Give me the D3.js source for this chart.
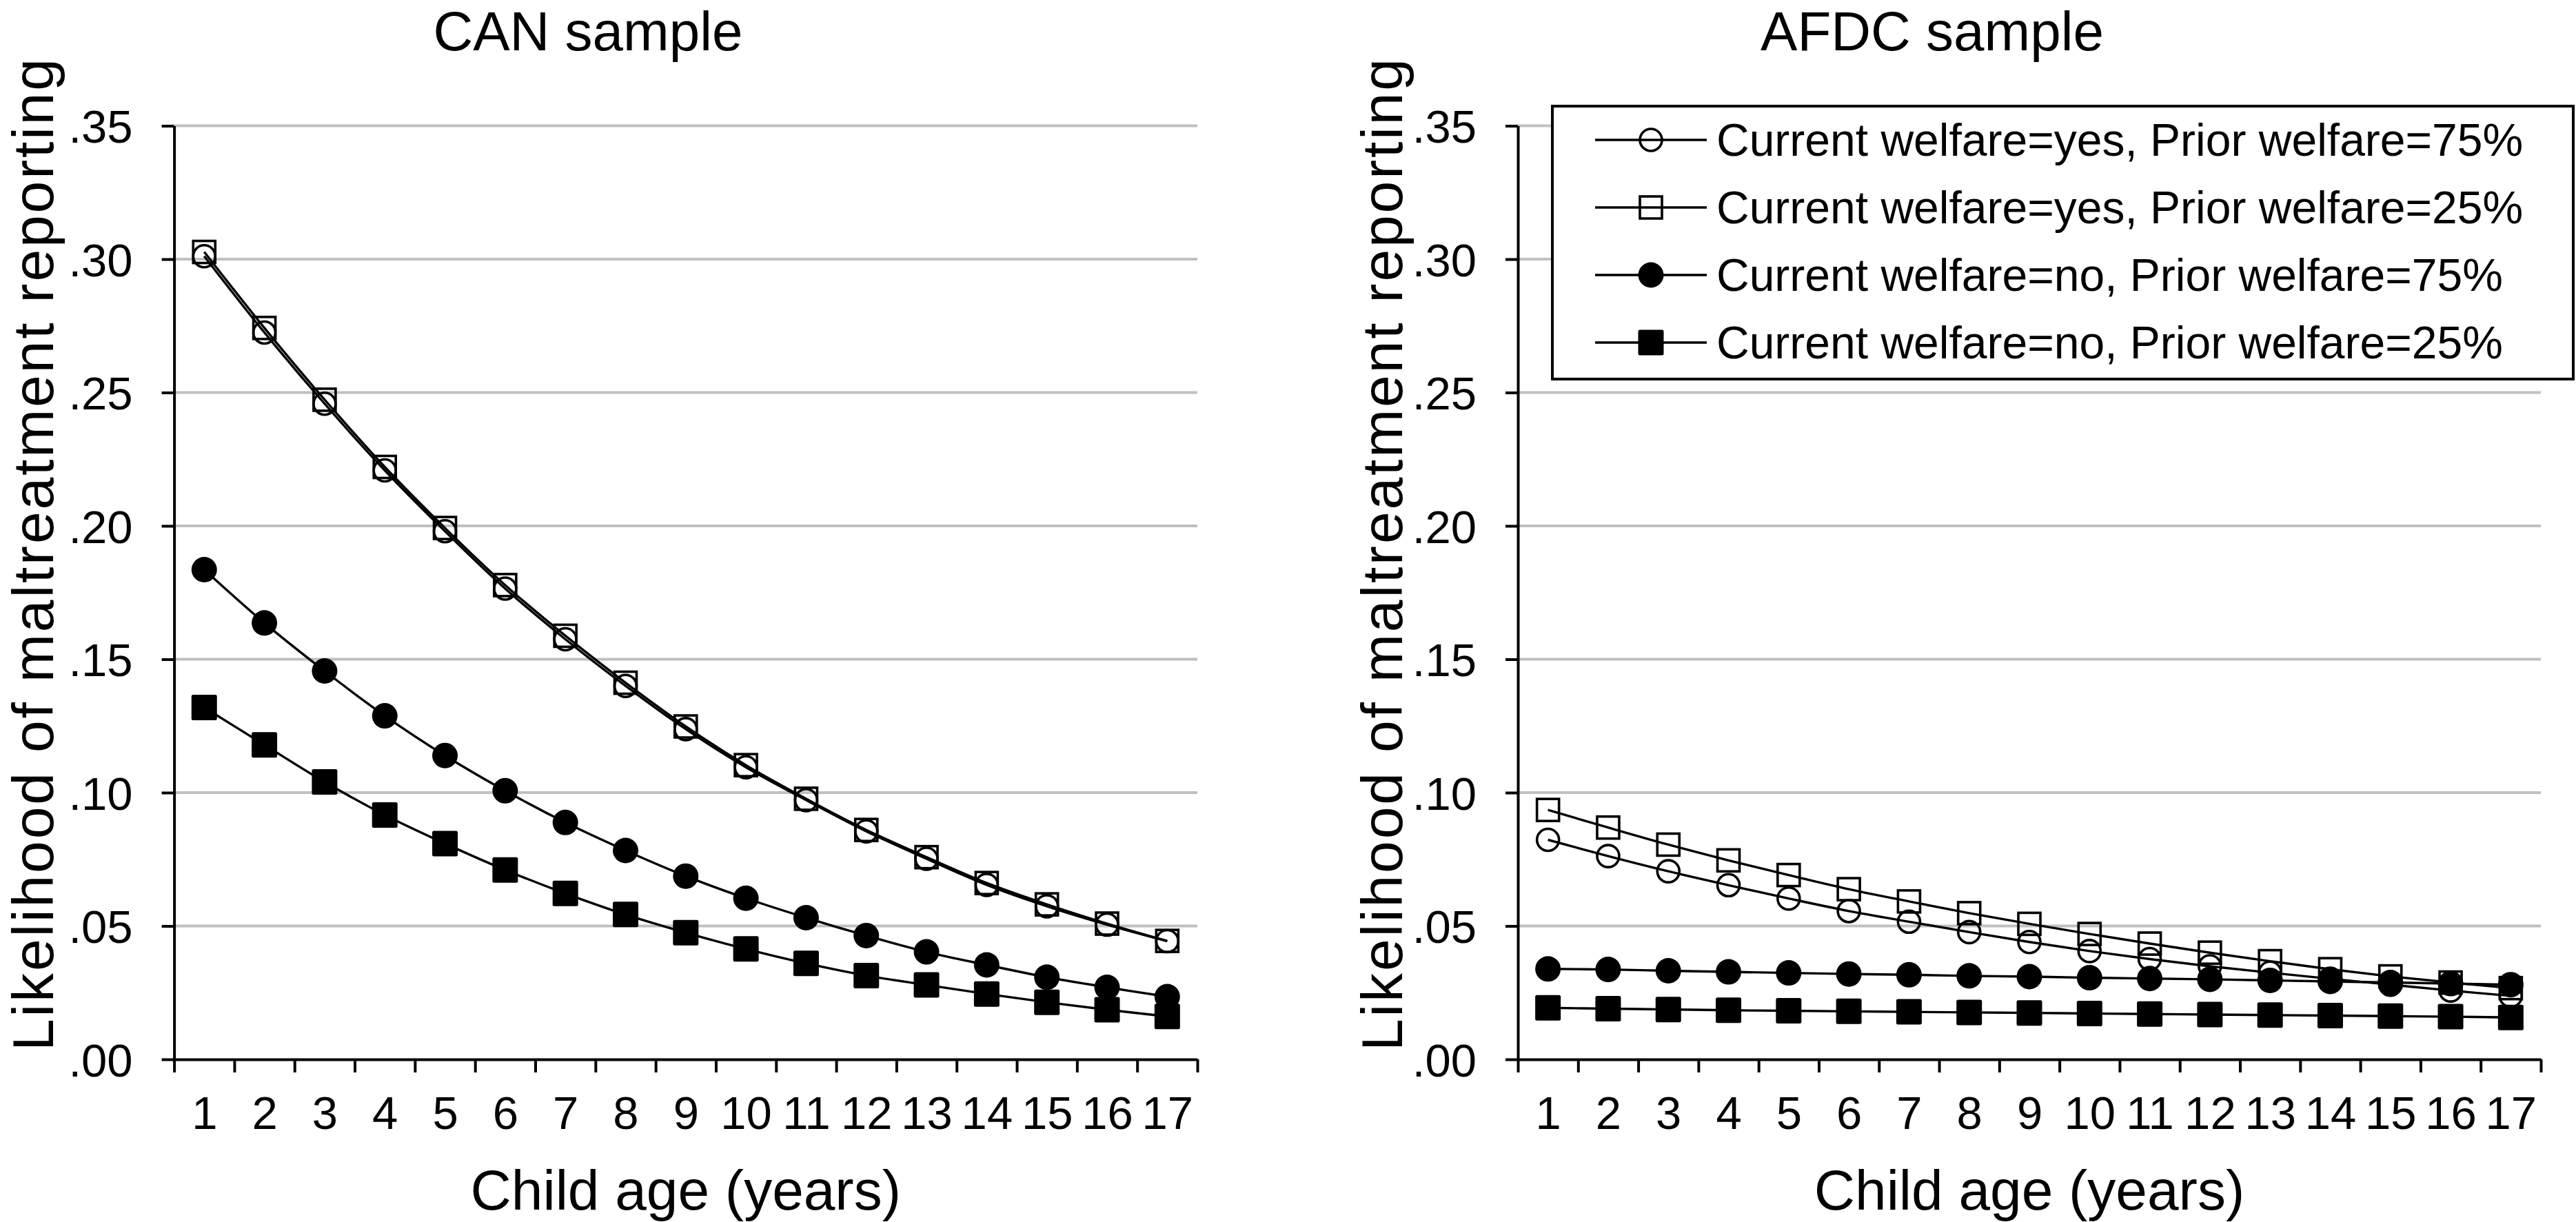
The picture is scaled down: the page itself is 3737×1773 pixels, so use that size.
<!DOCTYPE html>
<html>
<head>
<meta charset="utf-8">
<script src="https://cdn.jsdelivr.net/npm/d3@7"></script>
<style>
  html, body { margin: 0; padding: 0; background: #fff; }
  svg { display: block; }
  text { font-family: "Liberation Sans", Arial, Helvetica, sans-serif; fill: #000; }
</style>
</head>
<body>
<svg id="chart" width="3737" height="1773"></svg>
<script>
// ---------------- data ----------------
const ages = [1, 2, 3, 4, 5, 6, 7, 8, 9, 10, 11, 12, 13, 14, 15, 16, 17];

// CAN sample
const canYes75 = [0.3011, 0.2725, 0.2458, 0.2208, 0.1980, 0.1765, 0.1575, 0.1400, 0.1238, 0.1095, 0.0972, 0.0855, 0.0752, 0.0654, 0.0574, 0.0505, 0.0443];
const canYes25 = [0.3027, 0.2742, 0.2473, 0.2221, 0.1992, 0.1778, 0.1588, 0.1412, 0.1248, 0.1103, 0.0977, 0.0860, 0.0758, 0.0661, 0.0581, 0.0509, 0.0444];
const canNo75  = [0.1836, 0.1636, 0.1456, 0.1288, 0.1139, 0.1007, 0.0888, 0.0783, 0.0687, 0.0604, 0.0531, 0.0464, 0.0403, 0.0354, 0.0308, 0.0270, 0.0235];
const canNo25  = [0.1319, 0.1179, 0.1040, 0.0916, 0.0809, 0.0710, 0.0622, 0.0543, 0.0475, 0.0414, 0.0360, 0.0314, 0.0279, 0.0245, 0.0214, 0.0186, 0.0161];

// AFDC sample
const afdcYes75 = [0.0823, 0.0762, 0.0705, 0.0653, 0.0603, 0.0556, 0.0516, 0.0477, 0.0440, 0.0406, 0.0376, 0.0349, 0.0325, 0.0302, 0.0280, 0.0258, 0.0238];
const afdcYes25 = [0.0935, 0.0869, 0.0805, 0.0746, 0.0691, 0.0638, 0.0592, 0.0548, 0.0508, 0.0470, 0.0434, 0.0400, 0.0368, 0.0338, 0.0311, 0.0288, 0.0267];
const afdcNo75  = [0.0339, 0.0337, 0.0332, 0.0328, 0.0324, 0.0320, 0.0317, 0.0313, 0.0310, 0.0306, 0.0303, 0.0300, 0.0296, 0.0292, 0.0288, 0.0284, 0.0280];
const afdcNo25  = [0.0193, 0.0190, 0.0187, 0.0184, 0.0182, 0.0180, 0.0178, 0.0176, 0.0174, 0.0172, 0.0170, 0.0168, 0.0166, 0.0164, 0.0162, 0.0160, 0.0157];

const yTicks = [0, 0.05, 0.10, 0.15, 0.20, 0.25, 0.30, 0.35];
const yTickLabels = [".00", ".05", ".10", ".15", ".20", ".25", ".30", ".35"];

const seriesNames = [
  "Current welfare=yes, Prior welfare=75%",
  "Current welfare=yes, Prior welfare=25%",
  "Current welfare=no, Prior welfare=75%",
  "Current welfare=no, Prior welfare=25%"
];
const seriesMarkers = ["circleOpen", "squareOpen", "circleFilled", "squareFilled"];

const panelTitles = ["CAN sample", "AFDC sample"];
const xAxisTitle = "Child age (years)";
const yAxisTitle = "Likelihood of maltreatment reporting";

// ---------------- layout ----------------
const svg = d3.select("#chart");
svg.append("rect").attr("width", 3737).attr("height", 1773).attr("fill", "#fff");

const yTop = 182.5, yBottom = 1537;
const panels = [
  { x0: 252.6, x1: 1737, title: panelTitles[0], titleX: 853, yLabelX: 77,
    series: [canYes75, canYes25, canNo75, canNo25], legend: false },
  { x0: 2202, x1: 3686, title: panelTitles[1], titleX: 2803, yLabelX: 2034,
    series: [afdcYes75, afdcYes25, afdcNo75, afdcNo25], legend: true }
];

const y = d3.scaleLinear().domain([0, 0.35]).range([yBottom, yTop]);
const tickFont = 67;

function drawMarker(g, type, cx, cy) {
  if (type === "circleOpen") {
    g.append("circle").attr("cx", cx).attr("cy", cy).attr("r", 16)
      .attr("fill", "none").attr("stroke", "#000").attr("stroke-width", 3.6);
  } else if (type === "squareOpen") {
    g.append("rect").attr("x", cx - 16).attr("y", cy - 16).attr("width", 32).attr("height", 32)
      .attr("fill", "none").attr("stroke", "#000").attr("stroke-width", 3.6);
  } else if (type === "circleFilled") {
    g.append("circle").attr("cx", cx).attr("cy", cy).attr("r", 18.5).attr("fill", "#000");
  } else {
    g.append("rect").attr("x", cx - 18.5).attr("y", cy - 18.5).attr("width", 37).attr("height", 37)
      .attr("rx", 2.5).attr("fill", "#000");
  }
}

panels.forEach(p => {
  const g = svg.append("g");
  const x = d3.scaleLinear().domain([0.5, 17.5]).range([p.x0, p.x1]);
  const boundaries = d3.range(0.5, 18, 1);

  // gridlines
  g.append("g").selectAll("line").data(yTicks.filter(v => v > 0)).join("line")
    .attr("x1", p.x0).attr("x2", p.x1)
    .attr("y1", d => y(d)).attr("y2", d => y(d))
    .attr("stroke", "#c0c0c0").attr("stroke-width", 4);

  // y axis
  const yAxis = g.append("g").attr("transform", `translate(${p.x0},0)`)
    .call(d3.axisLeft(y).tickValues(yTicks)
      .tickFormat((d, i) => yTickLabels[i]).tickSize(18).tickSizeOuter(0).tickPadding(42));
  yAxis.selectAll("text").style("font-size", tickFont + "px").attr("dy", "0.36em");
  yAxis.selectAll("line, path").attr("stroke", "#000").attr("stroke-width", 4);

  // x axis: boundary ticks
  const xTicksG = g.append("g").attr("transform", `translate(0,${yBottom})`)
    .call(d3.axisBottom(x).tickValues(boundaries).tickFormat("").tickSize(19).tickSizeOuter(0));
  xTicksG.selectAll("line, path").attr("stroke", "#000").attr("stroke-width", 4);

  // x axis: labels at band centres
  const xLab = g.append("g").attr("transform", `translate(0,${yBottom})`)
    .call(d3.axisBottom(x).tickValues(ages).tickFormat(d3.format("d")).tickSize(0).tickPadding(53));
  xLab.select(".domain").remove();
  xLab.selectAll("text").style("font-size", tickFont + "px");

  // lines
  const line = d3.line().x((d, i) => x(ages[i])).y(d => y(d)).curve(d3.curveCatmullRom.alpha(0.5));
  p.series.forEach(s => {
    g.append("path").attr("d", line(s)).attr("fill", "none")
      .attr("stroke", "#000").attr("stroke-width", 3.4);
  });
  // markers
  p.series.forEach((s, si) => {
    const mg = g.append("g");
    s.forEach((v, i) => drawMarker(mg, seriesMarkers[si], x(ages[i]), y(v)));
  });

  // titles
  g.append("text").attr("x", p.titleX).attr("y", 73).attr("text-anchor", "middle")
    .style("font-size", "80px").text(p.title);
  g.append("text").attr("x", (p.x0 + p.x1) / 2).attr("y", 1755).attr("text-anchor", "middle")
    .style("font-size", "82px").text(xAxisTitle);
  g.append("text").attr("transform", `translate(${p.yLabelX},805) rotate(-90)`)
    .attr("text-anchor", "middle").style("font-size", "84px")
    .attr("textLength", 1440).attr("lengthAdjust", "spacing").text(yAxisTitle);

  // legend
  if (p.legend) {
    const lg = svg.append("g");
    lg.append("rect").attr("x", 2252).attr("y", 154).attr("width", 3733 - 2252).attr("height", 550 - 154)
      .attr("fill", "#fff").attr("stroke", "#000").attr("stroke-width", 4);
    seriesNames.forEach((name, i) => {
      const ly = 203 + i * 98;
      lg.append("line").attr("x1", 2314).attr("x2", 2476).attr("y1", ly).attr("y2", ly)
        .attr("stroke", "#000").attr("stroke-width", 3.4);
      drawMarker(lg, seriesMarkers[i], 2395, ly);
      lg.append("text").attr("x", 2490).attr("y", ly).attr("dy", "0.35em")
        .style("font-size", "66px").text(name);
    });
  }
});
</script>
</body>
</html>
